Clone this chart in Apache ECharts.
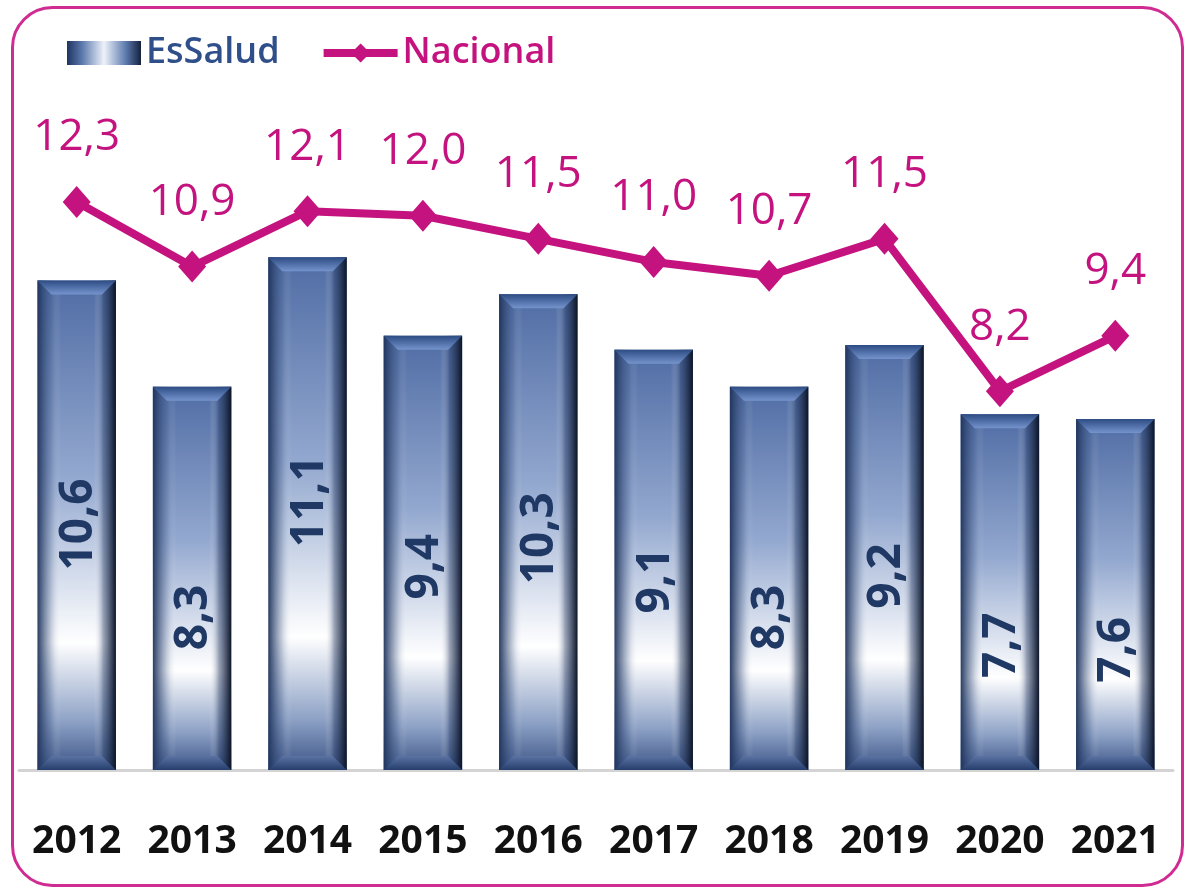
<!DOCTYPE html>
<html>
<head>
<meta charset="utf-8">
<script src="https://cdn.jsdelivr.net/npm/echarts@6/dist/echarts.min.js"></script>
<style>
  html, body { margin: 0; padding: 0; background: #fff; }
  #chart { width: 1186px; height: 888px; }
</style>
</head>
<body>
<div id="chart"></div>
<script>
// datos
var years = ['2012', '2013', '2014', '2015', '2016', '2017', '2018', '2019', '2020', '2021'];
var essalud = [10.6, 8.3, 11.1, 9.4, 10.3, 9.1, 8.3, 9.2, 7.7, 7.6];
var nacional = [12.3, 10.9, 12.1, 12.0, 11.5, 11.0, 10.7, 11.5, 8.2, 9.4];

var FONT = "'Open Sans', sans-serif";
var MAGENTA = '#c4137e';
var NAVY = '#1f3864';

function fmt(v) { return v.toFixed(1).replace('.', ','); }

function grad(x2, y2, stops) {
  return new echarts.graphic.LinearGradient(0, 0, x2, y2, stops);
}

// barra con bisel, dibujada con las coordenadas del eje
function renderBar(params, api) {
  var v = api.value(1);
  var top = api.coord([api.value(0), v]);
  var base = api.coord([api.value(0), 0]);
  var w = api.size([1, 0])[0] * 0.68;
  var l = top[0] - w / 2, r = top[0] + w / 2, t = top[1], b = base[1], h = b - t;
  var bev = 14;
  return {
    type: 'group',
    children: [
      { type: 'rect', shape: { x: l, y: t, width: w, height: h },
        style: { fill: grad(0, 1, [
          { offset: 0, color: '#4f6ca4' },
          { offset: 0.4, color: '#93a8cf' },
          { offset: 0.74, color: '#ffffff' },
          { offset: 0.9, color: '#8ea2c6' },
          { offset: 1, color: '#3b5486' }
        ]) } },
      { type: 'rect', shape: { x: l, y: t, width: w, height: h },
        style: { fill: grad(1, 0, [
          { offset: 0, color: 'rgba(30,50,90,0.95)' },
          { offset: 0.18, color: 'rgba(60,85,130,0.25)' },
          { offset: 0.3, color: 'rgba(255,255,255,0)' },
          { offset: 0.72, color: 'rgba(255,255,255,0)' },
          { offset: 0.84, color: 'rgba(40,60,100,0.45)' },
          { offset: 1, color: 'rgba(12,20,38,1)' }
        ]) } },
      { type: 'polygon', shape: { points: [[l, t], [r, t], [r - bev, t + bev], [l + bev, t + bev]] },
        style: { fill: grad(0, 1, [
          { offset: 0, color: '#2e4c84' },
          { offset: 1, color: '#7593cc' }
        ]) } },
      { type: 'polygon', shape: { points: [[l + bev, b - bev], [r - bev, b - bev], [r, b], [l, b]] },
        style: { fill: grad(0, 1, [
          { offset: 0, color: '#5a73a3' },
          { offset: 1, color: '#263e6c' }
        ]) } },
      { type: 'text', x: top[0] + 2, y: t + 198, rotation: Math.PI / 2,
        style: { text: fmt(v), fill: NAVY, font: 'bold 46px ' + FONT, align: 'right', verticalAlign: 'middle' } }
    ]
  };
}

var chart = echarts.init(document.getElementById('chart'));

var option = {
  animation: false,
  graphic: [{
    type: 'rect', left: 10, top: 5, z: -1,
    shape: { width: 1170, height: 878, r: 40 },
    style: { fill: 'none', stroke: '#cf2b91', lineWidth: 3 }
  }],
  legend: {
    left: 62, top: 30,
    itemWidth: 74, itemHeight: 24, itemGap: 40,
    textStyle: { fontSize: 36, fontFamily: FONT, fontWeight: 600 },
    data: [
      { name: 'EsSalud', icon: 'rect', textStyle: { color: '#2f4f8a' } },
      { name: 'Nacional', textStyle: { color: MAGENTA }, lineStyle: { width: 8 } }
    ]
  },
  grid: { left: 19, right: 13, top: 31, bottom: 118 },
  xAxis: {
    type: 'category',
    data: years,
    axisTick: { show: false },
    axisLine: { lineStyle: { color: '#d4d4d4', width: 3 } },
    axisLabel: { color: '#111', fontSize: 39, fontWeight: 'bold', fontFamily: FONT, margin: 52, interval: 0 }
  },
  yAxis: { type: 'value', min: 0, max: 16, show: false },
  series: [
    {
      name: 'EsSalud',
      type: 'custom',
      renderItem: renderBar,
      itemStyle: { color: grad(1, 0, [
        { offset: 0, color: '#1e3460' },
        { offset: 0.2, color: '#5a78ac' },
        { offset: 0.5, color: '#eef2fa' },
        { offset: 0.8, color: '#5a78ac' },
        { offset: 1, color: '#14213c' }
      ]) },
      encode: { x: 0, y: 1 },
      data: years.map(function (y, i) { return [i, essalud[i]]; })
    },
    {
      name: 'Nacional',
      type: 'line',
      data: nacional,
      z: 5,
      symbol: 'diamond',
      symbolSize: [28, 32],
      lineStyle: { color: MAGENTA, width: 8 },
      itemStyle: { color: MAGENTA },
      label: {
        show: true, position: 'top', distance: 26,
        color: MAGENTA, fontSize: 44, fontFamily: FONT, fontWeight: 500,
        formatter: function (p) { return fmt(p.value); }
      }
    }
  ]
};

chart.setOption(option);
</script>
</body>
</html>
